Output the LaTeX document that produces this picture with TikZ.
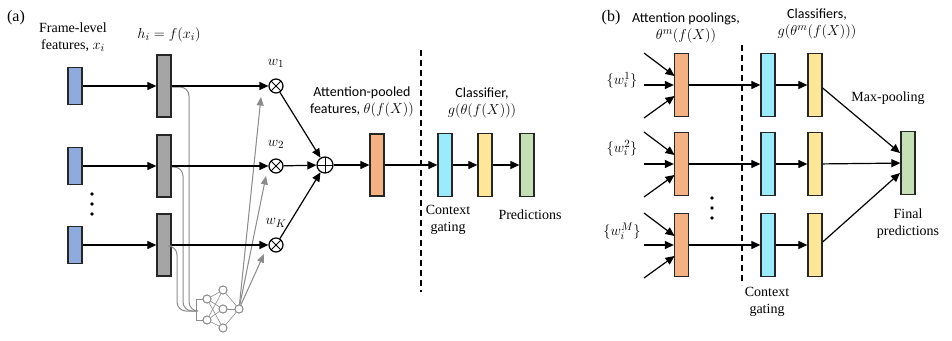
\documentclass[tikz,border=0pt]{standalone}
\usepackage{fontspec}
\setmainfont{Liberation Serif}
\newfontfamily\calib{Carlito}
\usetikzlibrary{arrows.meta,calc}
\definecolor{cblue}{HTML}{8FAADC}
\definecolor{cgray}{HTML}{A5A5A5}
\definecolor{corange}{HTML}{F4B183}
\definecolor{ccyan}{HTML}{9BEBFA}
\definecolor{cyellow}{HTML}{FFE699}
\definecolor{cgreen}{HTML}{C5E0B4}
\definecolor{lgray}{HTML}{8C8C8C}
\newcommand{\mth}[1]{{\fontsize{15.5}{17}\selectfont$#1$}}
\begin{document}
\begin{tikzpicture}[x=1pt,y=-1pt,font=\fontsize{14}{17}\selectfont,
  bar/.style={draw=black!85,line width=1.3pt,inner sep=0pt,minimum width=14pt,minimum height=62pt},
  shortbar/.style={bar,minimum height=37pt},
  arr/.style={-{Triangle[length=9pt,width=8pt]},line width=1.2pt},
  garr/.style={-{Triangle[length=8.5pt,width=7pt]},line width=1pt,draw=lgray,fill=lgray},
  gl/.style={draw=lgray,line width=1pt},
  nl/.style={draw=lgray,line width=0.6pt},
  neu/.style={circle,draw=lgray,line width=0.9pt,minimum size=8pt,inner sep=0pt,fill=white},
  mulnode/.style={circle,draw,line width=1.2pt,minimum size=14pt,inner sep=0pt,fill=white,
    path picture={\draw[line width=1pt] (path picture bounding box.north west)--(path picture bounding box.south east)
      (path picture bounding box.north east)--(path picture bounding box.south west);}},
  addnode/.style={circle,draw,line width=1.2pt,minimum size=16pt,inner sep=0pt,fill=white,
    path picture={\draw[line width=1pt] (path picture bounding box.north)--(path picture bounding box.south)
      (path picture bounding box.east)--(path picture bounding box.west);}},
  lbl/.style={align=center,inner sep=0pt},
  dline/.style={dashed,line width=1.2pt,dash pattern=on 6pt off 4pt},
  dot/.style={circle,fill=black,inner sep=0pt,minimum size=3.6pt}
]
\useasboundingbox (0,0) rectangle (952,340);

% ---------------- panel (a) ----------------
\node[lbl,font=\fontsize{16}{18}\selectfont] (pa) at (16,18) {(a)};
\node[lbl] (tframe) at (73,37) {Frame-level\\features, \mth{x_i}};
\node[lbl] (th) at (169,35) {\mth{h_i=f(x_i)}};

\node[shortbar,fill=cblue] (b1) at (75,86) {};
\node[shortbar,fill=cblue] (b2) at (75,166) {};
\node[shortbar,fill=cblue] (b3) at (75,245) {};
\node[dot] (d1) at (92,194) {};
\node[dot] (d2) at (92,204) {};
\node[dot] (d3) at (92,214) {};

\node[bar,fill=cgray] (g1) at (164,86) {};
\node[bar,fill=cgray] (g2) at (164,166) {};
\node[bar,fill=cgray] (g3) at (164,245) {};

\node[mulnode] (m1) at (276,86) {};
\node[mulnode] (m2) at (276,166) {};
\node[mulnode] (m3) at (276,245) {};
\node[lbl] (w1) at (276,63) {\mth{w_1}};
\node[lbl] (w2) at (276,144) {\mth{w_2}};
\node[lbl] (w3) at (276,223) {\mth{w_K}};

\node[addnode] (add) at (325,165) {};
\node[bar,fill=corange] (ora) at (377,165) {};
\node[bar,fill=ccyan,minimum height=63pt] (cya) at (445,165) {};
\node[bar,fill=cyellow,minimum height=63pt] (yel) at (485,165) {};
\node[bar,fill=cgreen,minimum height=63pt] (gre) at (527,165) {};

\node[lbl] (tatt) at (362,102) {{\calib Attention-pooled}\\{\calib features,} \mth{\theta(f(X))}};
\node[lbl] (tcls) at (482,103) {{\calib Classifier,}\\\mth{g(\theta(f(X)))}};
\node[lbl] (tctx) at (448,220) {Context\\gating};
\node[lbl] (tpred) at (530,215) {Predictions};

\coordinate (da1) at (421,50);
\coordinate (da2) at (421,292);
\draw[dline] (da1) -- (da2);

% gray side paths to the small network
\node[neu] (i1) at (207,299) {};
\node[neu] (i2) at (207,320) {};
\node[neu] (h1) at (223,290) {};
\node[neu] (h2) at (223,309) {};
\node[neu] (h3) at (223,328) {};
\node[neu] (o1) at (239,309) {};
\coordinate (jn) at (196,311);
\coordinate (bt) at (196,299);
\coordinate (bb) at (196,320);
\foreach \s in {i1,i2}{\foreach \t in {h1,h2,h3}{\draw[nl] (\s) -- (\t);}}
\foreach \t in {h1,h2,h3}{\draw[nl] (\t) -- (o1);}
\draw[gl] (i1) -- (bt) -- (bb) -- (i2);
\draw[gl,rounded corners=9pt] ($(g1.east)+(0,1)$) -| (189,311) -- (jn);
\draw[gl,rounded corners=9pt] ($(g2.east)+(0,1)$) -| (183,311) -- (jn);
\draw[gl,rounded corners=9pt] ($(g3.east)+(0,1)$) -| (177,311) -- (jn);
\node[neu] at (207,299) {};
\node[neu] at (207,320) {};
\node[neu] at (223,290) {};
\node[neu] at (223,309) {};
\node[neu] at (223,328) {};
\node[neu] at (239,309) {};

\coordinate (t1) at (261,97);
\coordinate (t2) at (266,176);
\coordinate (t3) at (264,254);
\draw[garr] (o1) -- (t1);
\draw[garr] (o1) -- (t2);
\draw[garr] (o1) -- (t3);

% black arrows
\draw[arr] (b1) -- (g1);
\draw[arr] (b2) -- (g2);
\draw[arr] (b3) -- (g3);
\draw[arr] (g1) -- (m1);
\draw[arr] (g2) -- (m2);
\draw[arr] (g3) -- (m3);
\draw[arr] (m1) -- (add);
\draw[arr] (m2) -- (add);
\draw[arr] (m3) -- (add);
\draw[arr] (add) -- (ora);
\draw[arr] (ora) -- (cya);
\draw[arr] (cya) -- (yel);
\draw[arr] (yel) -- (gre);

% ---------------- panel (b) ----------------
\node[lbl,font=\fontsize{16}{18}\selectfont] (pb) at (611,18) {(b)};
\node[lbl] (tap) at (686,28) {{\calib Attention poolings,}\\\mth{\theta^m(f(X))}};
\node[lbl] (tcs) at (817,24) {{\calib Classifiers,}\\\mth{g(\theta^m(f(X)))}};

\foreach \r/\yy in {1/85,2/164,3/245}{
  \node[bar,fill=corange,minimum height=63pt] (o\r b) at (681.5,\yy) {};
  \node[bar,fill=ccyan,minimum height=63pt] (c\r b) at (768,\yy) {};
  \node[bar,fill=cyellow,minimum height=63pt] (y\r b) at (815,\yy) {};
  \coordinate (s\r a) at (644,\yy-32);
  \coordinate (s\r b) at (644,\yy);
  \coordinate (s\r c) at (644,\yy+33);
  \coordinate (e\r a) at (674.5,\yy-9);
  \coordinate (e\r c) at (674.5,\yy+11);
  \draw[arr] (s\r a) -- (e\r a);
  \draw[arr] (s\r b) -- (o\r b.west);
  \draw[arr] (s\r c) -- (e\r c);
  \draw[arr] (o\r b) -- (c\r b);
  \draw[arr] (c\r b) -- (y\r b);
}
\node[bar,fill=cgreen,minimum height=63pt] (fin) at (908,163) {};
\coordinate (ft) at (900,153);
\coordinate (fb) at (900,173);
\draw[arr] ($(y1b.east)+(0,3)$) -- (ft);
\draw[arr] (y2b) -- (fin);
\draw[arr] ($(y3b.east)+(0,-3)$) -- (fb);

\node[lbl] (w1b) at (622,80) {\mth{\{w_i^1\}}};
\node[lbl] (w2b) at (622,148) {\mth{\{w_i^2\}}};
\node[lbl] (w3b) at (622,231) {\mth{\{w_i^M\}}};
\node[dot] (e1) at (712,198) {};
\node[dot] (e2) at (712,208) {};
\node[dot] (e3) at (712,218) {};

\coordinate (db1) at (742,45);
\coordinate (db2) at (742,285);
\draw[dline] (db1) -- (db2);

\node[lbl] (tmax) at (888,98) {Max-pooling};
\node[lbl] (tfin) at (908,224) {Final\\predictions};
\node[lbl] (tctxb) at (767,302) {Context\\gating};
\end{tikzpicture}
\end{document}
